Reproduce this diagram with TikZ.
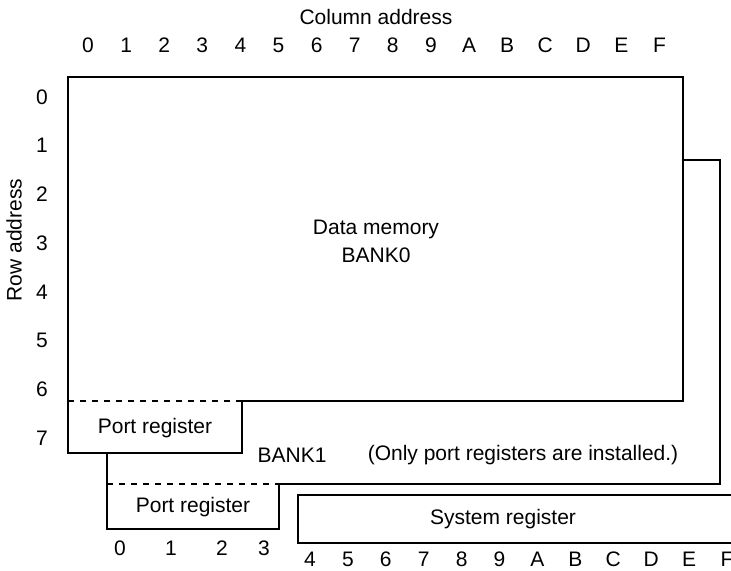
\documentclass[tikz,border=0pt]{standalone}
\usepackage{fontspec}
\setmainfont{Liberation Sans}
\usepackage{tikz}
\usetikzlibrary{positioning}

\tikzset{
  bankline/.style={line width=1.4pt, line join=miter},
  cutline/.style={dashed, line width=0.8pt},
  lbl/.style={inner sep=0pt, font=\fontsize{10.5}{12}\selectfont}
}

\begin{document}
\begin{tikzpicture}[x=0.5pt, y=-0.5pt]
  \useasboundingbox (0,0) rectangle (731,570);
  % BANK1 behind BANK0
  \filldraw[bankline, fill=white] (107,160) -- (720,160) -- (720,484) -- (279,484) -- (279,529) -- (107,529) -- cycle;
  \draw[cutline] (107,484) -- (279,484);
  % BANK0
  \filldraw[bankline, fill=white] (68,77) -- (683,77) -- (683,401) -- (242,401) -- (242,453) -- (68,453) -- cycle;
  \draw[cutline] (68,401) -- (242,401);
  % system register
  \draw[bankline] (731,495) -- (298,495) -- (298,543) -- (731,543);

  \node[lbl] (colhead) at (376,17) {Column address};
  \foreach \c [count=\i from 0] in {0,1,2,3,4,5,6,7,8,9,A,B,C,D,E,F}
    \node[lbl] (col\i) at ({88+38.1*\i},45) {\c};
  \node[lbl, rotate=90] (rowhead) at (14,240) {Row address};
  \foreach \r in {0,...,7}
    \node[lbl] (row\r) at (42,{97+48.7*\r}) {\r};

  \node[lbl, align=center] (bank0) at (376,241) {Data memory\\[2pt]BANK0};
  \node[lbl] (port0) at (155,428) {Port register};
  \node[lbl] (bank1) at (292,455) {BANK1};
  \node[lbl] (note) at (523,455) {(Only port registers are installed.)};
  \node[lbl] (port1) at (193,507) {Port register};
  \node[lbl] (sysreg) at (503,519) {System register};

  \node[lbl] (b0) at (120,548) {0};
  \node[lbl] (b1) at (171,548) {1};
  \node[lbl] (b2) at (222,548) {2};
  \node[lbl] (b3) at (264,548) {3};
  \foreach \c [count=\i from 0] in {4,5,6,7,8,9,A,B,C,D,E,F}
    \node[lbl] (s\i) at ({310+37.9*\i},559) {\c};
\end{tikzpicture}
\end{document}
